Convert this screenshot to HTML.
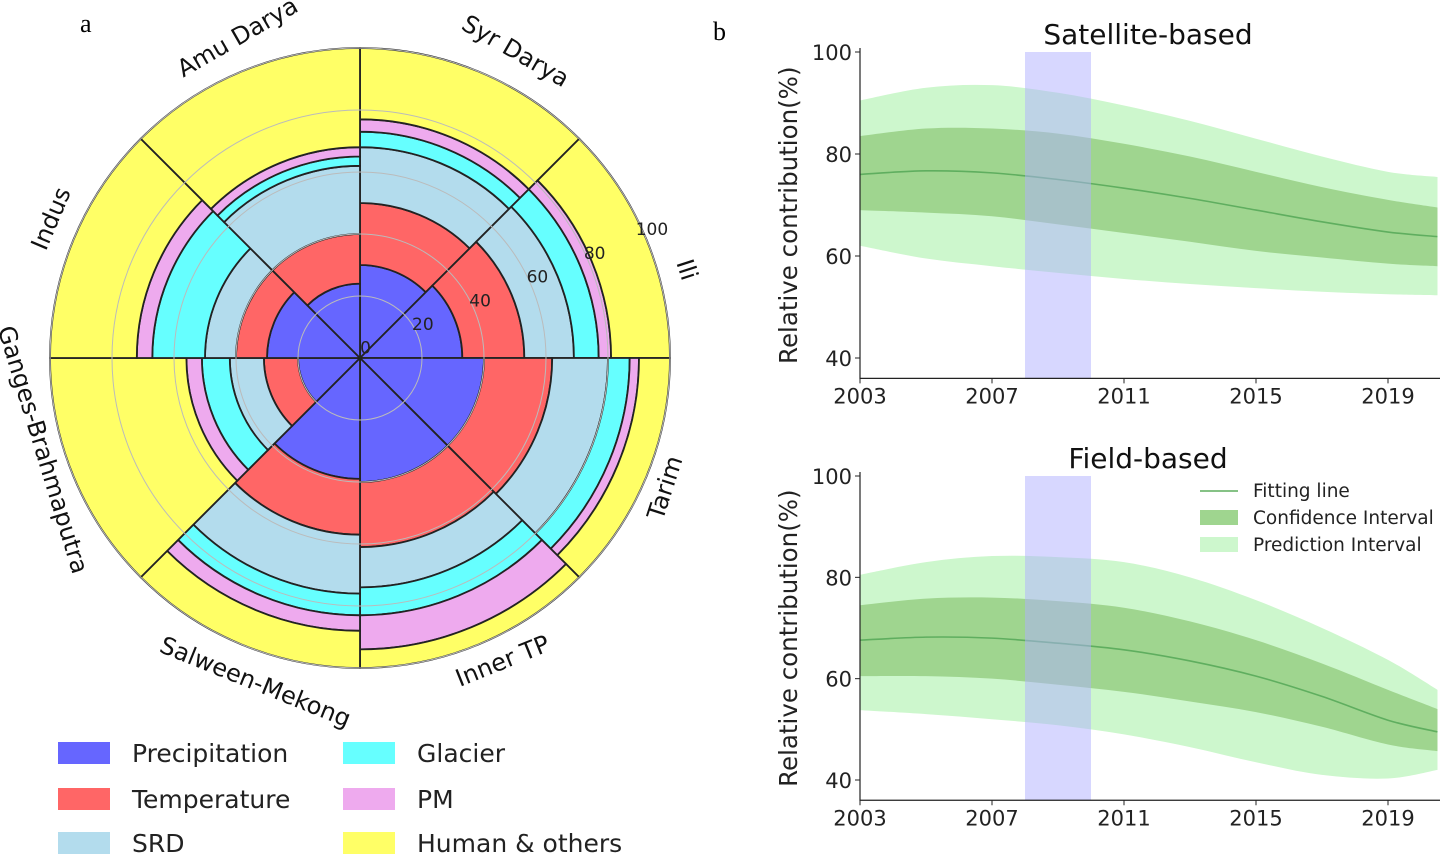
<!DOCTYPE html>
<html><head><meta charset="utf-8"><style>
html,body{margin:0;padding:0;background:#fff;}
svg{display:block;font-family:"DejaVu Sans","Liberation Sans",sans-serif;}
</style></head><body>
<svg id="root" width="1440" height="854" viewBox="0 0 1440 854">
<text x="80" y="32" font-family="Liberation Serif,serif" font-size="26">a</text>
<text x="713" y="40" font-family="Liberation Serif,serif" font-size="26">b</text>
<g id="polar"></g>
<g id="legendA"></g>
<g id="top"></g>
<g id="bot"></g>
</svg>
<script>
// ---- polar data ----
const basins = ["Syr Darya","Ili","Tarim","Inner TP","Salween-Mekong","Ganges-Brahmaputra","Indus","Amu Darya"];
const factors = ["Precipitation","Temperature","SRD","Glacier","PM","Human & others"];
const precipitation = [30,33,40,40,39,20,30,24];
const temperature   = [20,20,22,21,18,11,10,16];
const srd           = [18,16,18,13,19,11,10,22];
const glacier       = [5,8,7,9,7,9,17,3];
const pm            = [4,4,3,11,5,5,5,3];
const human         = [23,19,10,6,12,44,28,32];
const radialTicks = [0,20,40,60,80,100];

// ---- line chart data ----
const years = [2003,2005,2007,2009,2011,2013,2015,2017,2019,2020.5];
const xTicks = [2003,2007,2011,2015,2019];
const yTicks = [40,60,80,100];
const satFit = [76,76.7,76.3,75,73.3,71.3,69,66.7,64.7,63.8];
const satCiU = [83.5,85,85,84,82,79.5,76.5,73.5,71,69.5];
const satCiL = [69,68.5,67.8,66.2,64.5,62.8,61,59.7,58.5,58];
const satPiU = [90.5,93,93.5,92,89.5,86.5,83,79.5,76.5,75.5];
const satPiL = [62,59.5,58,56.7,55.5,54.5,53.7,53,52.5,52.3];
const fldFit = [67.6,68.2,68,67,65.7,63.5,60.5,56.5,51.8,49.5];
const fldCiU = [74.5,75.8,76,75.3,74,71.3,67.6,63,57.8,54];
const fldCiL = [60.5,60.5,60,58.8,57.4,55.5,53.4,50.5,47,45.7];
const fldPiU = [80.5,83,84.2,84,83,80,75.5,70,63.7,57.8];
const fldPiL = [53.8,53,52,50.8,49,46.5,43.5,41,40.3,42];
const bandYears = [2008,2010];

const NS="http://www.w3.org/2000/svg";
function mk(tag,attrs,parent){const e=document.createElementNS(NS,tag);for(const k in attrs)e.setAttribute(k,attrs[k]);parent.appendChild(e);return e;}

// ---- polar ----
(function(){
  const g=document.getElementById('polar');
  const cx=360,cy=358,scale=3.1;
  const colors=["#6666ff","#ff6666","#b3dced","#66ffff","#eeaaee","#ffff66"];
  const series=[precipitation,temperature,srd,glacier,pm,human];
  const rad=v=>v*scale;
  const pt=(r,a)=>[cx+r*Math.sin(a),cy-r*Math.cos(a)];
  basins.forEach((b,i)=>{
    const a0=i*Math.PI/4,a1=(i+1)*Math.PI/4;
    let cum=0;
    series.forEach((s,j)=>{
      const r0=rad(cum),r1=rad(cum+s[i]);cum+=s[i];
      const p1=pt(r1,a0),p2=pt(r1,a1),p3=pt(r0,a1),p4=pt(r0,a0);
      let d=`M${p4[0]},${p4[1]}L${p1[0]},${p1[1]}A${r1},${r1} 0 0 1 ${p2[0]},${p2[1]}L${p3[0]},${p3[1]}`;
      if(r0>0)d+=`A${r0},${r0} 0 0 0 ${p4[0]},${p4[1]}`;
      d+='Z';
      const e=mk('path',{d,fill:colors[j],stroke:'#222','stroke-width':1.8},g);
      
      
    });
  });
  radialTicks.forEach(t=>{
    if(t>0){const c=mk('circle',{cx,cy,r:rad(t),fill:'none',stroke:'#bbb','stroke-width':1},g);
      
      }
    const a=67.5*Math.PI/180;const p=pt(rad(t)+6,a);
    const tx=mk('text',{x:p[0],y:p[1]-2,'font-size':17,fill:'#222','text-anchor':'middle'},g);tx.textContent=t;
    
    
  });
  const lab=[[515,52,30],[686,270,72],[666,488,-72],[503,662,-22],[255,683,22],[42,450,73],[52,219,-67],[238,38,-30]];
  basins.forEach((b,i)=>{
    const l=lab[i];
    const t=mk('text',{x:l[0],y:l[1],'font-size':24,'text-anchor':'middle','dominant-baseline':'middle',transform:`rotate(${l[2]} ${l[0]} ${l[1]})`,fill:'#111'},g);
    t.textContent=b;
    
    
  });
  const lg=document.getElementById('legendA');
  const pos=[[58,742],[58,788],[58,832],[343,742],[343,788],[343,832]];
  factors.forEach((f,j)=>{
    const p=pos[j];
    const r=mk('rect',{x:p[0],y:p[1],width:52,height:22,fill:colors[j]},lg);
    
    
    const t=mk('text',{x:p[0]+74,y:p[1]+20,'font-size':25,fill:'#222'},lg);t.textContent=f;
    
    
  });
})();

// ---- line charts ----
function drawPanel(id,title,y100,y40,fit,ciU,ciL,piU,piL,legend){
  const g=document.getElementById(id);
  const ppu=(y40-y100)/60;
  const X=v=>860+(v-2003)*33;
  const Y=v=>y40-(v-40)*ppu;
  const yBot=Y(36);
  const cp=mk('clipPath',{id:id+'clip'},g);mk('rect',{x:860,y:Y(100)-30,width:580,height:yBot-Y(100)+30},cp);
  const pg=mk('g',{'clip-path':`url(#${id}clip)`},g);
  function spline(xs,ys){
    const P=xs.map((x,i)=>[X(x),Y(ys[i])]);let d='';
    for(let i=0;i<P.length-1;i++){
      const p0=P[Math.max(0,i-1)],p1=P[i],p2=P[i+1],p3=P[Math.min(P.length-1,i+2)];
      const c1=[p1[0]+(p2[0]-p0[0])/6,p1[1]+(p2[1]-p0[1])/6],c2=[p2[0]-(p3[0]-p1[0])/6,p2[1]-(p3[1]-p1[1])/6];
      d+=(i==0?`M${p1[0]},${p1[1]}`:'')+`C${c1[0]},${c1[1]} ${c2[0]},${c2[1]} ${p2[0]},${p2[1]}`;
    }return d;}
  function band(u,l){
    const up=spline(years,u);const rl=spline(years.slice().reverse(),l.slice().reverse()).replace(/^M/,'L');
    return up+rl+'Z';}
  const pi=mk('path',{d:band(piU,piL),fill:'#cdf7cd'},pg);
  
  
  const ci=mk('path',{d:band(ciU,ciL),fill:'#9fd58f'},pg);
  
  
  const fl=mk('path',{d:spline(years,fit),fill:'none',stroke:'#5fae5f','stroke-width':1.6},pg);
  
  
  const bb=mk('rect',{x:X(bandYears[0]),y:Y(100),width:X(bandYears[1])-X(bandYears[0]),height:yBot-Y(100),fill:'#b0b0ff','fill-opacity':0.5},pg);
  
  
  const ax=mk('path',{d:`M860,${Y(100)-4}V${yBot}H1440`,fill:'none',stroke:'#222','stroke-width':1.2},g);
  
  
  yTicks.forEach(t=>{
    mk('line',{x1:855,x2:860,y1:Y(t),y2:Y(t),stroke:'#222'},g);
    const tx=mk('text',{x:852,y:Y(t)+8,'font-size':21,'text-anchor':'end',fill:'#222'},g);tx.textContent=t;
    
    
  });
  xTicks.forEach(t=>{
    mk('line',{x1:X(t),x2:X(t),y1:yBot,y2:yBot+5,stroke:'#222'},g);
    const tx=mk('text',{x:X(t),y:yBot+25,'font-size':21,'text-anchor':'middle',fill:'#222'},g);tx.textContent=t;
    
    
  });
  const tt=mk('text',{x:1148,y:Y(100)-8,'font-size':28,'text-anchor':'middle',fill:'#111'},g);tt.textContent=title;
  
  
  const cyl=(Y(100)+yBot)/2;
  const yl=mk('text',{x:797,y:cyl,'font-size':24.5,'text-anchor':'middle',transform:`rotate(-90 797 ${cyl})`,fill:'#222'},g);yl.textContent='Relative contribution(%)';
  
  
  if(legend){
    const items=[['Fitting line','line'],['Confidence Interval','#9fd58f'],['Prediction Interval','#cdf7cd']];
    items.forEach((it,k)=>{
      const yy=491+k*27;
      if(it[1]=='line'){const l=mk('line',{x1:1200,x2:1238,y1:yy,y2:yy,stroke:'#5fae5f','stroke-width':1.6},g);
        }
      else{const r=mk('rect',{x:1200,y:yy-8,width:38,height:15,fill:it[1]},g);
        }
      const t=mk('text',{x:1253,y:yy+6,'font-size':18.5,fill:'#222'},g);t.textContent=it[0];
      
      
    });
  }
}
drawPanel('top','Satellite-based',52,358,satFit,satCiU,satCiL,satPiU,satPiL,false);
drawPanel('bot','Field-based',476,780,fldFit,fldCiU,fldCiL,fldPiU,fldPiL,true);
</script>
</body></html>
